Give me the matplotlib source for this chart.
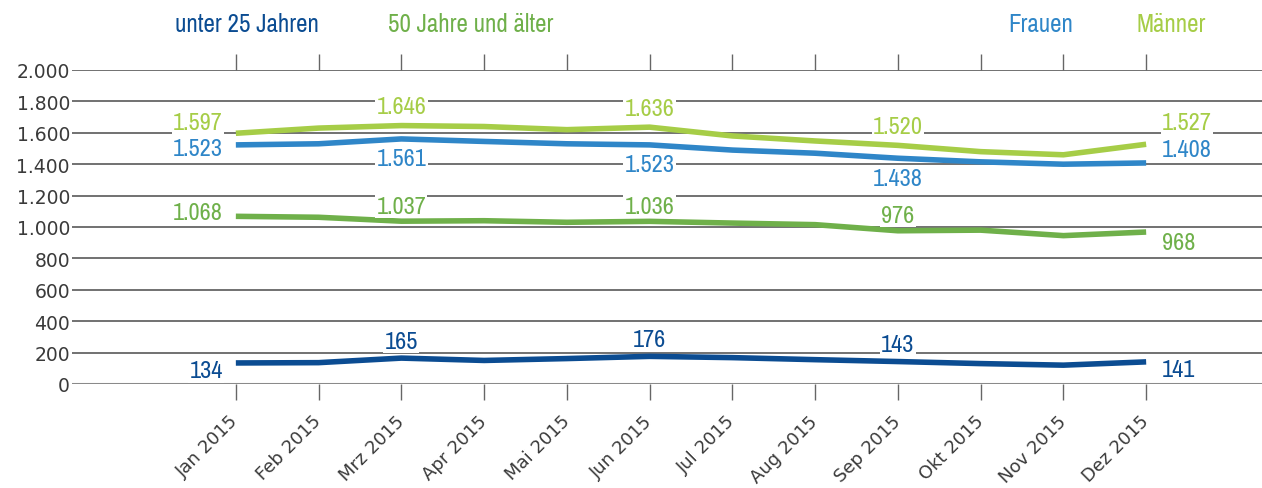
import matplotlib.pyplot as plt
from matplotlib import font_manager

# ── Data ─────────────────────────────────────────────────────────────
MONTHS = ["Jan 2015", "Feb 2015", "Mrz 2015", "Apr 2015", "Mai 2015", "Jun 2015",
          "Jul 2015", "Aug 2015", "Sep 2015", "Okt 2015", "Nov 2015", "Dez 2015"]

maenner = [1597, 1630, 1646, 1640, 1620, 1636, 1580, 1548, 1520, 1480, 1460, 1527]
frauen = [1523, 1530, 1561, 1545, 1530, 1523, 1490, 1470, 1438, 1415, 1400, 1408]
ueber50 = [1068, 1062, 1037, 1040, 1030, 1036, 1025, 1015, 976, 980, 945, 968]
unter25 = [134, 136, 165, 150, 162, 176, 168, 155, 143, 130, 120, 141]

# months that carry a value label
LABEL_IDX = [0, 2, 5, 8, 11]

# ── Style ────────────────────────────────────────────────────────────
C_U25 = "#0b4c92"
C_50 = "#6fb04a"
C_FRAU = "#2f86c8"
C_MANN = "#a6cd47"
GRID = "#4a4a4a"
TXT = "#3a3a3a"

fonts = font_manager.fontManager.ttflist
narrow = [f.name for f in fonts if "Narrow" in f.name or "Condensed" in f.name]
NARROW = [narrow[0], "DejaVu Sans"] if narrow else ["DejaVu Sans"]
plt.rcParams["font.family"] = ["DejaVu Sans"]

# (values, colour, dy-mid px, dy-left px, dy-right px)
SERIES = [
    (maenner, C_MANN, 19, 11, 22),
    (frauen, C_FRAU, -20, -4, 13),
    (ueber50, C_50, 15, 4, -10),
    (unter25, C_U25, 17, -8, -8),
]


def fmt(v):
    return f"{v:,}".replace(",", ".")


fig = plt.figure(figsize=(12.62, 4.89), dpi=100)
ax = fig.add_axes([72 / 1262, 1 - 385 / 489, 1 - 72 / 1262, (385 - 71) / 489])

x = list(range(len(MONTHS)))
yticks = list(range(0, 2001, 200))

for yt in yticks:
    ax.axhline(yt, color="#8a8a8a" if yt == 0 else GRID, lw=2.2 if yt == 0 else 1.1, zorder=1)

for vals, col, dy_mid, dy_l, dy_r in SERIES:
    ax.plot(x, vals, color=col, lw=4, solid_capstyle="butt", zorder=3)
    for i in LABEL_IDX:
        if i == 0:
            dx, ha, dy = -13, "right", dy_l
        elif i == len(x) - 1:
            dx, ha, dy = 16, "left", dy_r
        else:
            dx, ha, dy = 0, "center", dy_mid
        ax.annotate(fmt(vals[i]), (x[i], vals[i]), xytext=(dx, dy),
                    textcoords="offset pixels", ha=ha, va="center",
                    family=NARROW, fontsize=17.5, color=col, zorder=4,
                    bbox=dict(boxstyle="square,pad=0.05", fc="white", ec="none"))

ax.set_xlim(-1.98, 12.4)
ax.set_ylim(0, 2000)
ax.set_yticks(yticks)
ax.set_yticklabels([fmt(v) for v in yticks], fontsize=13.5, color=TXT)
ax.tick_params(axis="y", length=0, pad=1.5)

ax.set_xticks(x)
ax.set_xticklabels(MONTHS, rotation=45, ha="right", va="center",
                   rotation_mode="anchor", fontsize=13, color=TXT)
ax.tick_params(axis="x", direction="out", length=11.5, width=1, color="#666666",
               top=True, bottom=True, labeltop=False, pad=13)

for s in ax.spines.values():
    s.set_visible(False)

# legend as coloured headings
head = dict(family=NARROW, fontsize=18, va="center")
fig.text(175 / 1262, 1 - 25 / 489, "unter 25 Jahren", color=C_U25, **head)
fig.text(388 / 1262, 1 - 25 / 489, "50 Jahre und älter", color=C_50, **head)
fig.text(1008 / 1262, 1 - 25 / 489, "Frauen", color=C_FRAU, **head)
fig.text(1137 / 1262, 1 - 25 / 489, "Männer", color=C_MANN, **head)

fig.savefig("out.png", dpi=100, facecolor="white")
